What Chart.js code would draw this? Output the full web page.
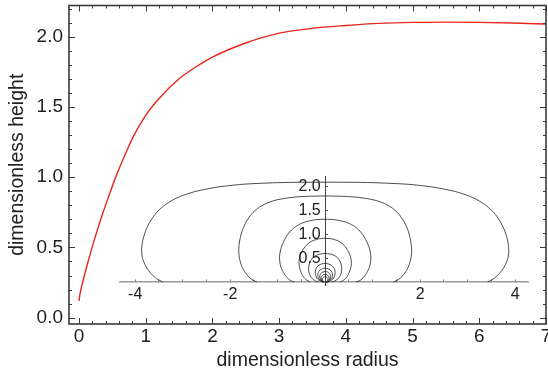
<!DOCTYPE html>
<html>
<head>
<meta charset="utf-8">
<script src="https://cdn.jsdelivr.net/npm/chart.js@4"></script>
<style>
  html, body { margin: 0; padding: 0; background: #fff; }
  #wrap { position: relative; width: 548px; height: 375px; }
  #wrap canvas { position: absolute; left: 0; top: 0; }
</style>
</head>
<body>
<div id="wrap">
  <canvas id="mainChart" width="548" height="375"></canvas>
  <canvas id="insetChart" width="548" height="375"></canvas>
</div>
<script>
// main curve: drop height vs radius
const radius = [0, 0.015, 0.065, 0.125, 0.24, 0.34, 0.465, 0.566, 0.7, 0.815, 1.0, 1.2, 1.5, 1.8, 2.0, 2.5, 3.0, 3.5, 4.0, 4.5, 5.0, 5.5, 6.0, 6.5, 7.0];
const height = [0.12, 0.17, 0.27, 0.38, 0.57, 0.72, 0.89, 1.02, 1.17, 1.29, 1.44, 1.56, 1.70, 1.80, 1.855, 1.955, 2.025, 2.06, 2.08, 2.095, 2.102, 2.104, 2.102, 2.097, 2.09];

// inset: right half of each drop profile, [r, z] from apex down to contact line
const drop1 = [[0, 2.10], [0.5, 2.098], [1.0, 2.09], [1.5, 2.07], [1.75, 2.055], [2.0, 2.03], [2.25, 2.0], [2.5, 1.955], [2.75, 1.9], [3.0, 1.82], [3.2, 1.73], [3.4, 1.6], [3.55, 1.46], [3.68, 1.28], [3.77, 1.10], [3.83, 0.92], [3.86, 0.75], [3.865, 0.64], [3.85, 0.52], [3.81, 0.40], [3.74, 0.27], [3.65, 0.16], [3.55, 0.07], [3.42, 0]];
const drop2 = [[0, 1.81], [0.3, 1.805], [0.6, 1.79], [0.85, 1.76], [1.05, 1.72], [1.25, 1.65], [1.42, 1.55], [1.55, 1.43], [1.66, 1.27], [1.74, 1.10], [1.79, 0.92], [1.815, 0.76], [1.82, 0.64], [1.805, 0.50], [1.77, 0.37], [1.71, 0.24], [1.63, 0.13], [1.54, 0.05], [1.44, 0]];
const drop3 = [[0, 1.32], [0.2, 1.31], [0.4, 1.27], [0.55, 1.21], [0.68, 1.12], [0.79, 1.0], [0.87, 0.86], [0.93, 0.71], [0.96, 0.55], [0.955, 0.42], [0.93, 0.31], [0.88, 0.2], [0.81, 0.1], [0.73, 0.03], [0.65, 0]];
const drop4 = [[0, 0.92], [0.15, 0.905], [0.28, 0.86], [0.38, 0.79], [0.46, 0.69], [0.52, 0.57], [0.55, 0.45], [0.545, 0.33], [0.51, 0.21], [0.46, 0.11], [0.39, 0.04], [0.32, 0]];
const drop5 = [[0, 0.60], [0.1, 0.59], [0.19, 0.56], [0.26, 0.51], [0.31, 0.44], [0.34, 0.36], [0.35, 0.28], [0.34, 0.2], [0.31, 0.12], [0.26, 0.06], [0.2, 0.02], [0.14, 0]];
const drop6 = [[0, 0.39], [0.07, 0.38], [0.13, 0.355], [0.175, 0.31], [0.2, 0.26], [0.21, 0.2], [0.2, 0.14], [0.175, 0.08], [0.13, 0.035], [0.08, 0.008], [0.05, 0]];
const drop7 = [[0, 0.29], [0.06, 0.28], [0.11, 0.25], [0.145, 0.2], [0.155, 0.145], [0.145, 0.09], [0.115, 0.045], [0.07, 0.012], [0.035, 0]];
const drop8 = [[0, 0.22], [0.05, 0.21], [0.09, 0.18], [0.113, 0.135], [0.11, 0.085], [0.09, 0.04], [0.05, 0.01], [0.025, 0]];
const drop9 = [[0, 0.16], [0.04, 0.152], [0.07, 0.125], [0.085, 0.085], [0.075, 0.045], [0.045, 0.012], [0.018, 0]];
const drop10 = [[0, 0.11], [0.03, 0.103], [0.052, 0.08], [0.058, 0.055], [0.05, 0.028], [0.03, 0.008], [0.012, 0]];
const drops = [drop1, drop2, drop3, drop4, drop5, drop6, drop7, drop8, drop9, drop10];

Chart.defaults.font.family = "'Liberation Sans', Arial, sans-serif";
Chart.defaults.color = '#222';

// full outline of a drop: left half is the mirror of the right half
function outline(half) {
  const left = half.slice().reverse().map(p => ({ x: -p[0], y: p[1] }));
  const right = half.slice(1).map(p => ({ x: p[0], y: p[1] }));
  return left.concat(right);
}

// box frame with inward ticks on all four sides
const frameTicks = {
  id: 'frameTicks',
  afterDraw(chart) {
    const { ctx, chartArea: a, scales: { x, y } } = chart;
    ctx.save();
    ctx.strokeStyle = '#3a3a3a';
    ctx.lineWidth = 1;
    ctx.beginPath();
    for (let i = 0; i <= 35; i++) {
      const px = Math.round(x.getPixelForValue(i * 0.2)) + 0.5;
      const len = i % 5 === 0 ? 6 : 3;
      ctx.moveTo(px, a.bottom); ctx.lineTo(px, a.bottom - len);
      ctx.moveTo(px, a.top); ctx.lineTo(px, a.top + len);
    }
    for (let i = 0; i <= 22; i++) {
      const py = Math.round(y.getPixelForValue(i * 0.1)) + 0.5;
      const len = i % 5 === 0 ? 6 : 3;
      ctx.moveTo(a.left, py); ctx.lineTo(a.left + len, py);
      ctx.moveTo(a.right, py); ctx.lineTo(a.right - len, py);
    }
    ctx.stroke();
    ctx.lineWidth = 1.6;
    ctx.strokeRect(a.left, a.top, a.right - a.left, a.bottom - a.top);
    ctx.restore();
  }
};

new Chart(document.getElementById('mainChart'), {
  type: 'scatter',
  data: {
    datasets: [{
      data: radius.map((r, i) => ({ x: r, y: height[i] })),
      showLine: true,
      borderColor: '#e8261e',
      borderWidth: 1.4,
      pointRadius: 0,
      cubicInterpolationMode: 'monotone'
    }]
  },
  options: {
    responsive: false,
    animation: false,
    devicePixelRatio: 1,
    layout: { padding: { top: 5.5, right: 2, left: 0, bottom: 0 } },
    plugins: { legend: { display: false }, tooltip: { enabled: false } },
    scales: {
      x: {
        type: 'linear', min: -0.15, max: 7,
        grid: { display: false, drawTicks: false },
        border: { display: false },
        ticks: { stepSize: 1, includeBounds: false, padding: 1.5, maxRotation: 0, font: { size: 19 } },
        title: { display: true, text: 'dimensionless radius', font: { size: 19.5 }, padding: { top: 0, bottom: 2.8 } },
        afterFit(s) { s.height = 51; s.paddingLeft = 0; s.paddingRight = 0; }
      },
      y: {
        type: 'linear', min: -0.045, max: 2.222,
        grid: { display: false, drawTicks: false },
        border: { display: false },
        ticks: { stepSize: 0.5, includeBounds: false, padding: 6, font: { size: 19 }, callback: v => v.toFixed(1) },
        title: { display: true, text: 'dimensionless height', font: { size: 19.5 }, padding: { top: 6.3, bottom: 0 } },
        afterFit(s) { s.width = 69; s.paddingTop = 0; s.paddingBottom = 0; }
      }
    }
  },
  plugins: [frameTicks]
});

new Chart(document.getElementById('insetChart'), {
  type: 'scatter',
  data: {
    datasets: drops.map(d => ({
      data: outline(d),
      showLine: true,
      borderColor: '#1e1e1e',
      borderWidth: 0.8,
      pointRadius: 0,
      tension: 0.25
    }))
  },
  options: {
    responsive: false,
    animation: false,
    devicePixelRatio: 1,
    layout: { padding: { left: 120, right: 20, top: 176, bottom: 90 } },
    plugins: { legend: { display: false }, tooltip: { enabled: false } },
    scales: {
      x: {
        type: 'linear', min: -4.32, max: 4.27, position: { y: 0 },
        grid: { drawOnChartArea: false, drawTicks: true, tickLength: -3, color: '#777' },
        border: { color: '#9a9a9a', width: 1.5 },
        ticks: {
          stepSize: 0.5, includeBounds: false, autoSkip: false, maxRotation: 0, padding: 6,
          font: { size: 16 },
          callback: v => (v !== 0 && v % 2 === 0) ? String(v) : ''
        }
      },
      y: {
        type: 'linear', min: -0.063, max: 2.23, position: { x: 0 },
        grid: { drawOnChartArea: false, drawTicks: true, tickLength: -3, color: '#555' },
        border: { color: '#444', width: 1, dash: [1, 2] },
        ticks: {
          stepSize: 0.5, includeBounds: false, autoSkip: false, padding: 6,
          font: { size: 16 },
          callback: v => v === 0 ? '' : v.toFixed(1) + ' '
        }
      }
    }
  }
});
</script>
</body>
</html>
